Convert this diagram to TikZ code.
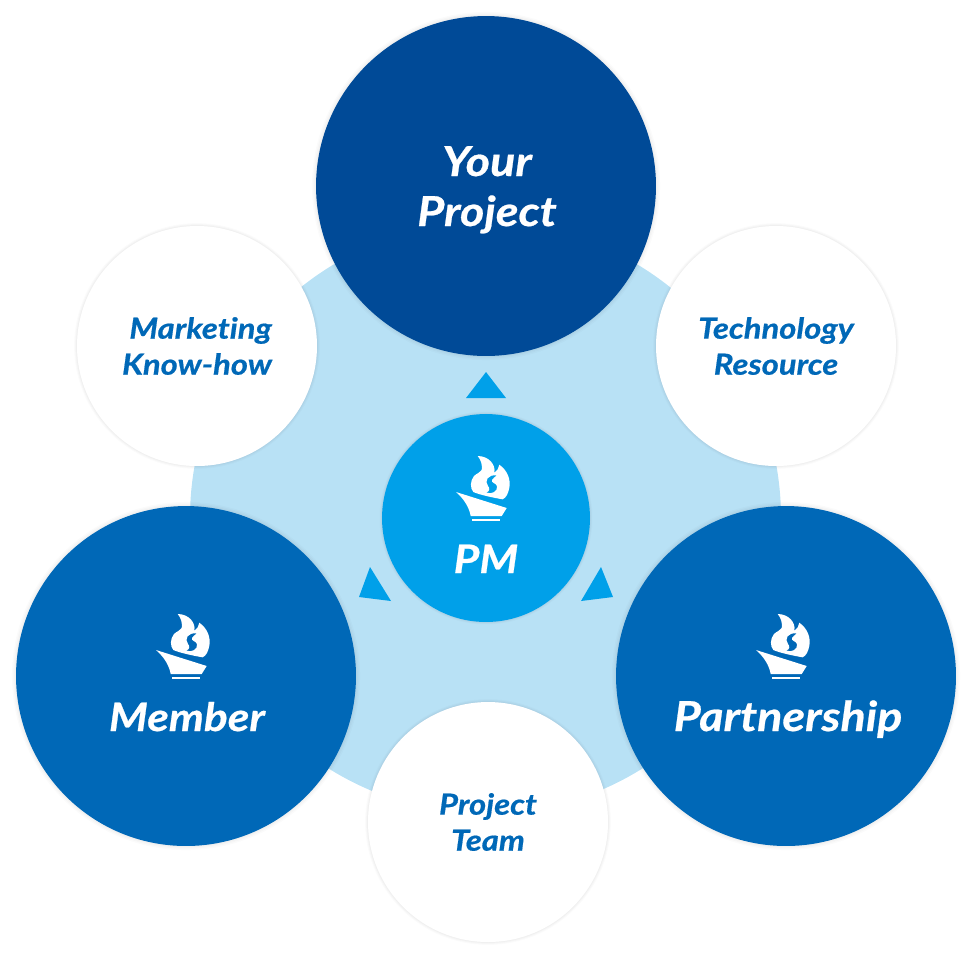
\documentclass[tikz,border=0pt]{standalone}
\usepackage{fontspec}
\setmainfont{Lato}[Ligatures=NoCommon,BoldItalicFeatures={FakeStretch=1.13,FakeBold=0.6}]
\usetikzlibrary{shadows,positioning}
\definecolor{darkblue}{HTML}{004A97}
\definecolor{midblue}{HTML}{0068B7}
\definecolor{skyblue}{HTML}{00A0E9}
\definecolor{paleblue}{HTML}{B8E1F5}
\tikzset{
  halo/.style={general shadow={shadow scale=1.008,fill=black,opacity=.025},general shadow={shadow scale=1.016,fill=black,opacity=.02},general shadow={shadow scale=1.024,fill=black,opacity=.015}},
  bigcirc/.style={circle,inner sep=0pt,minimum size=6.8cm,halo},
  smallcirc/.style={circle,fill=white,inner sep=0pt,minimum size=4.8cm,text=midblue,halo,font=\fontsize{16.5}{20.5}\selectfont\bfseries\itshape},
  pmcirc/.style={circle,fill=skyblue,inner sep=0pt,minimum size=4.16cm,halo},
  biglabel/.style={text=white,inner sep=0pt,anchor=base,font=\fontsize{23.5}{28.5}\selectfont\bfseries\itshape},
  midlabel/.style={biglabel,font=\fontsize{22.3}{28.5}\selectfont\bfseries\itshape},
  pointer/.style={fill=skyblue},
  pics/torch/.style={code={
    % flame, with the s cut out of it
    \fill[white,even odd rule] (-8.3,-37) .. controls (3,-37) and (10,-28) .. (8.3,-20.3) .. controls (11,-22) and (13,-25) .. (13.3,-28.3)
      .. controls (21,-23) and (25,-14) .. (23.3,-5) .. controls (22,1) and (20,5) .. (16.5,6.3) .. controls (9,5) and (-6,2) .. (-12.7,-1)
      .. controls (-16,-5) and (-16,-12) .. (-12,-17) .. controls (-9,-20) and (-6,-20) .. (-4.3,-23) .. controls (-3.5,-28) and (-5,-33) .. (-8.3,-37) -- cycle
      (10.7,-17.5) .. controls (2,-19) and (-2,-12) .. (2,-7) .. controls (4,-5) and (4,-1.5) .. (0,-.5)
      .. controls (6,2) and (12,-2) .. (11,-7) .. controls (10,-10) and (5,-10) .. (6,-13) .. controls (6.5,-15) and (9,-15.5) .. (10.7,-17.5) -- cycle;
    % hull and bar
    \fill[white] (-30,-1) -- (20.7,15) -- (15.7,23) -- (-15.3,23) .. controls (-17,14) and (-22,6) .. (-30,-1) -- cycle;
    \fill[white] (-14,25.7) rectangle (14,28.3);
  }}
}
\begin{document}
\begin{tikzpicture}[x=0.02cm,y=-0.02cm]
\useasboundingbox (0,0) rectangle (972,958);
\fill[paleblue] (485.5,518) circle (295.5);

\node[pmcirc] (pm) at (486,518) {};
\node[bigcirc,fill=darkblue] (project) at (486,186) {};
\node[bigcirc,fill=midblue] (member) at (186,676) {};
\node[bigcirc,fill=midblue] (partner) at (786,676) {};
\node[smallcirc,align=right] (marketing) at (197,346) {Marketing\\Know-how};
\node[smallcirc,align=center] (technology) at (776,346) {Technology\\Resource};
\node[smallcirc,align=center] (team) at (488,822) {Project\\Team};

\node[biglabel] (yourtext) at (487,176) {Your};
\node[biglabel] (projecttext) at (487,226) {Project};
\node[midlabel] (pmtext) at (486,573) {PM};
\node[midlabel] (membertext) at (187,731) {Member};
\node[biglabel] (partnertext) at (788,731) {Partnership};

\pic at (486,493) {torch};
\pic at (186,651) {torch};
\pic at (786,651) {torch};

\fill[pointer] (486,372) -- (506,398) -- (466,398) -- cycle;
\fill[pointer] (370,567) -- (391,601) -- (359,597) -- cycle;
\fill[pointer] (601,567) -- (613,597) -- (581,601) -- cycle;
\end{tikzpicture}
\end{document}
